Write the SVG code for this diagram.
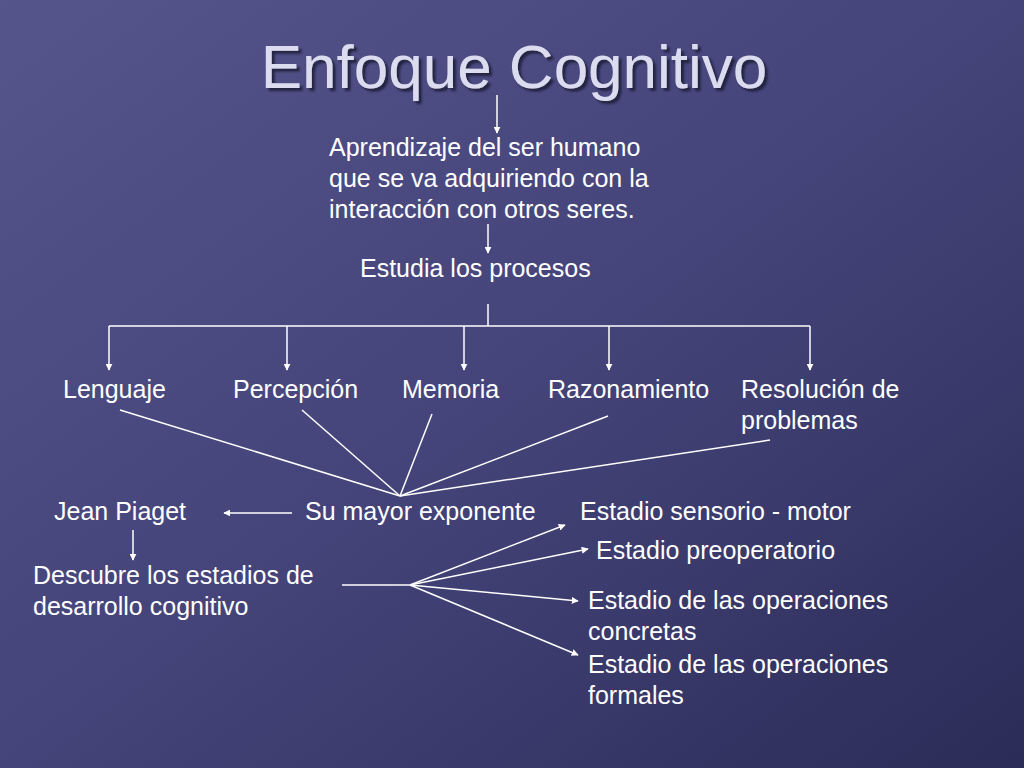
<svg xmlns="http://www.w3.org/2000/svg" width="1024" height="768" viewBox="0 0 1024 768">
<defs>
<linearGradient id="bg" x1="0" y1="0" x2="1" y2="1">
<stop offset="0" stop-color="#55558c"/><stop offset="0.5" stop-color="#44447a"/><stop offset="1" stop-color="#2c2c58"/>
</linearGradient>
<filter id="sh" x="-10%" y="-20%" width="120%" height="150%"><feDropShadow dx="3" dy="3" stdDeviation="1" flood-color="#1a1a3a" flood-opacity="0.9"/></filter>
<marker id="ah" viewBox="0 0 10 10" refX="9" refY="5" markerWidth="7" markerHeight="7" orient="auto" markerUnits="userSpaceOnUse">
<path d="M0,0 L10,5 L0,10 z" fill="#fff"/>
</marker>
<style>
text{font-family:"Liberation Sans",Arial,sans-serif;fill:#fff;font-size:25px}
.t{font-size:62px;fill:#dcdcf0;filter:url(#sh)}
.l{stroke:#fff;stroke-width:1.5;fill:none}
.a{marker-end:url(#ah)}
</style>
</defs>
<rect width="1024" height="768" fill="url(#bg)"/>
<g id="title"><text class="t" x="514" y="88" text-anchor="middle">Enfoque Cognitivo</text></g>
<g id="aprendizaje"><text x="329" y="156">Aprendizaje del ser humano</text><text x="329" y="187">que se va adquiriendo con la</text><text x="329" y="218">interacción con otros seres.</text></g>
<g id="estudia"><text x="360" y="277">Estudia los procesos</text></g>
<g id="lenguaje"><text x="63" y="398">Lenguaje</text></g>
<g id="percepcion"><text x="233" y="398">Percepción</text></g>
<g id="memoria"><text x="402" y="398">Memoria</text></g>
<g id="razonamiento"><text x="548" y="398">Razonamiento</text></g>
<g id="resolucion"><text x="741" y="398">Resolución de</text><text x="741" y="429">problemas</text></g>
<g id="piaget"><text x="54" y="520">Jean Piaget</text></g>
<g id="exponente"><text x="305" y="520">Su mayor exponente</text></g>
<g id="descubre"><text x="33" y="584">Descubre los estadios de</text><text x="33" y="615">desarrollo cognitivo</text></g>
<g id="sensorio"><text x="580" y="520">Estadio sensorio - motor</text></g>
<g id="preop"><text x="596" y="559">Estadio preoperatorio</text></g>
<g id="concretas"><text x="588" y="609">Estadio de las operaciones</text><text x="588" y="640">concretas</text></g>
<g id="formales"><text x="588" y="673">Estadio de las operaciones</text><text x="588" y="704">formales</text></g>
<g id="connectors">
<line class="l a" x1="497" y1="95" x2="497" y2="133"/>
<line class="l a" x1="488" y1="224" x2="488" y2="253"/>
<line class="l" x1="488" y1="304" x2="488" y2="326"/>
<line class="l" x1="109" y1="326" x2="810" y2="326"/>
<line class="l a" x1="109" y1="326" x2="109" y2="370"/>
<line class="l a" x1="287" y1="326" x2="287" y2="370"/>
<line class="l a" x1="464" y1="326" x2="464" y2="370"/>
<line class="l a" x1="609" y1="326" x2="609" y2="370"/>
<line class="l a" x1="810" y1="326" x2="810" y2="370"/>
<line class="l" x1="120" y1="410" x2="400" y2="496"/>
<line class="l" x1="302" y1="410" x2="400" y2="496"/>
<line class="l" x1="432" y1="414" x2="400" y2="496"/>
<line class="l" x1="608" y1="416" x2="400" y2="496"/>
<line class="l" x1="770" y1="440" x2="400" y2="496"/>
<line class="l a" x1="292" y1="513" x2="224" y2="513"/>
<line class="l a" x1="133" y1="530" x2="133" y2="560"/>
<line class="l" x1="342" y1="585" x2="410" y2="585"/>
<line class="l a" x1="410" y1="585" x2="565" y2="525"/>
<line class="l a" x1="410" y1="585" x2="588" y2="549"/>
<line class="l a" x1="410" y1="585" x2="578" y2="601"/>
<line class="l a" x1="410" y1="585" x2="578" y2="655"/>
</g>
</svg>
